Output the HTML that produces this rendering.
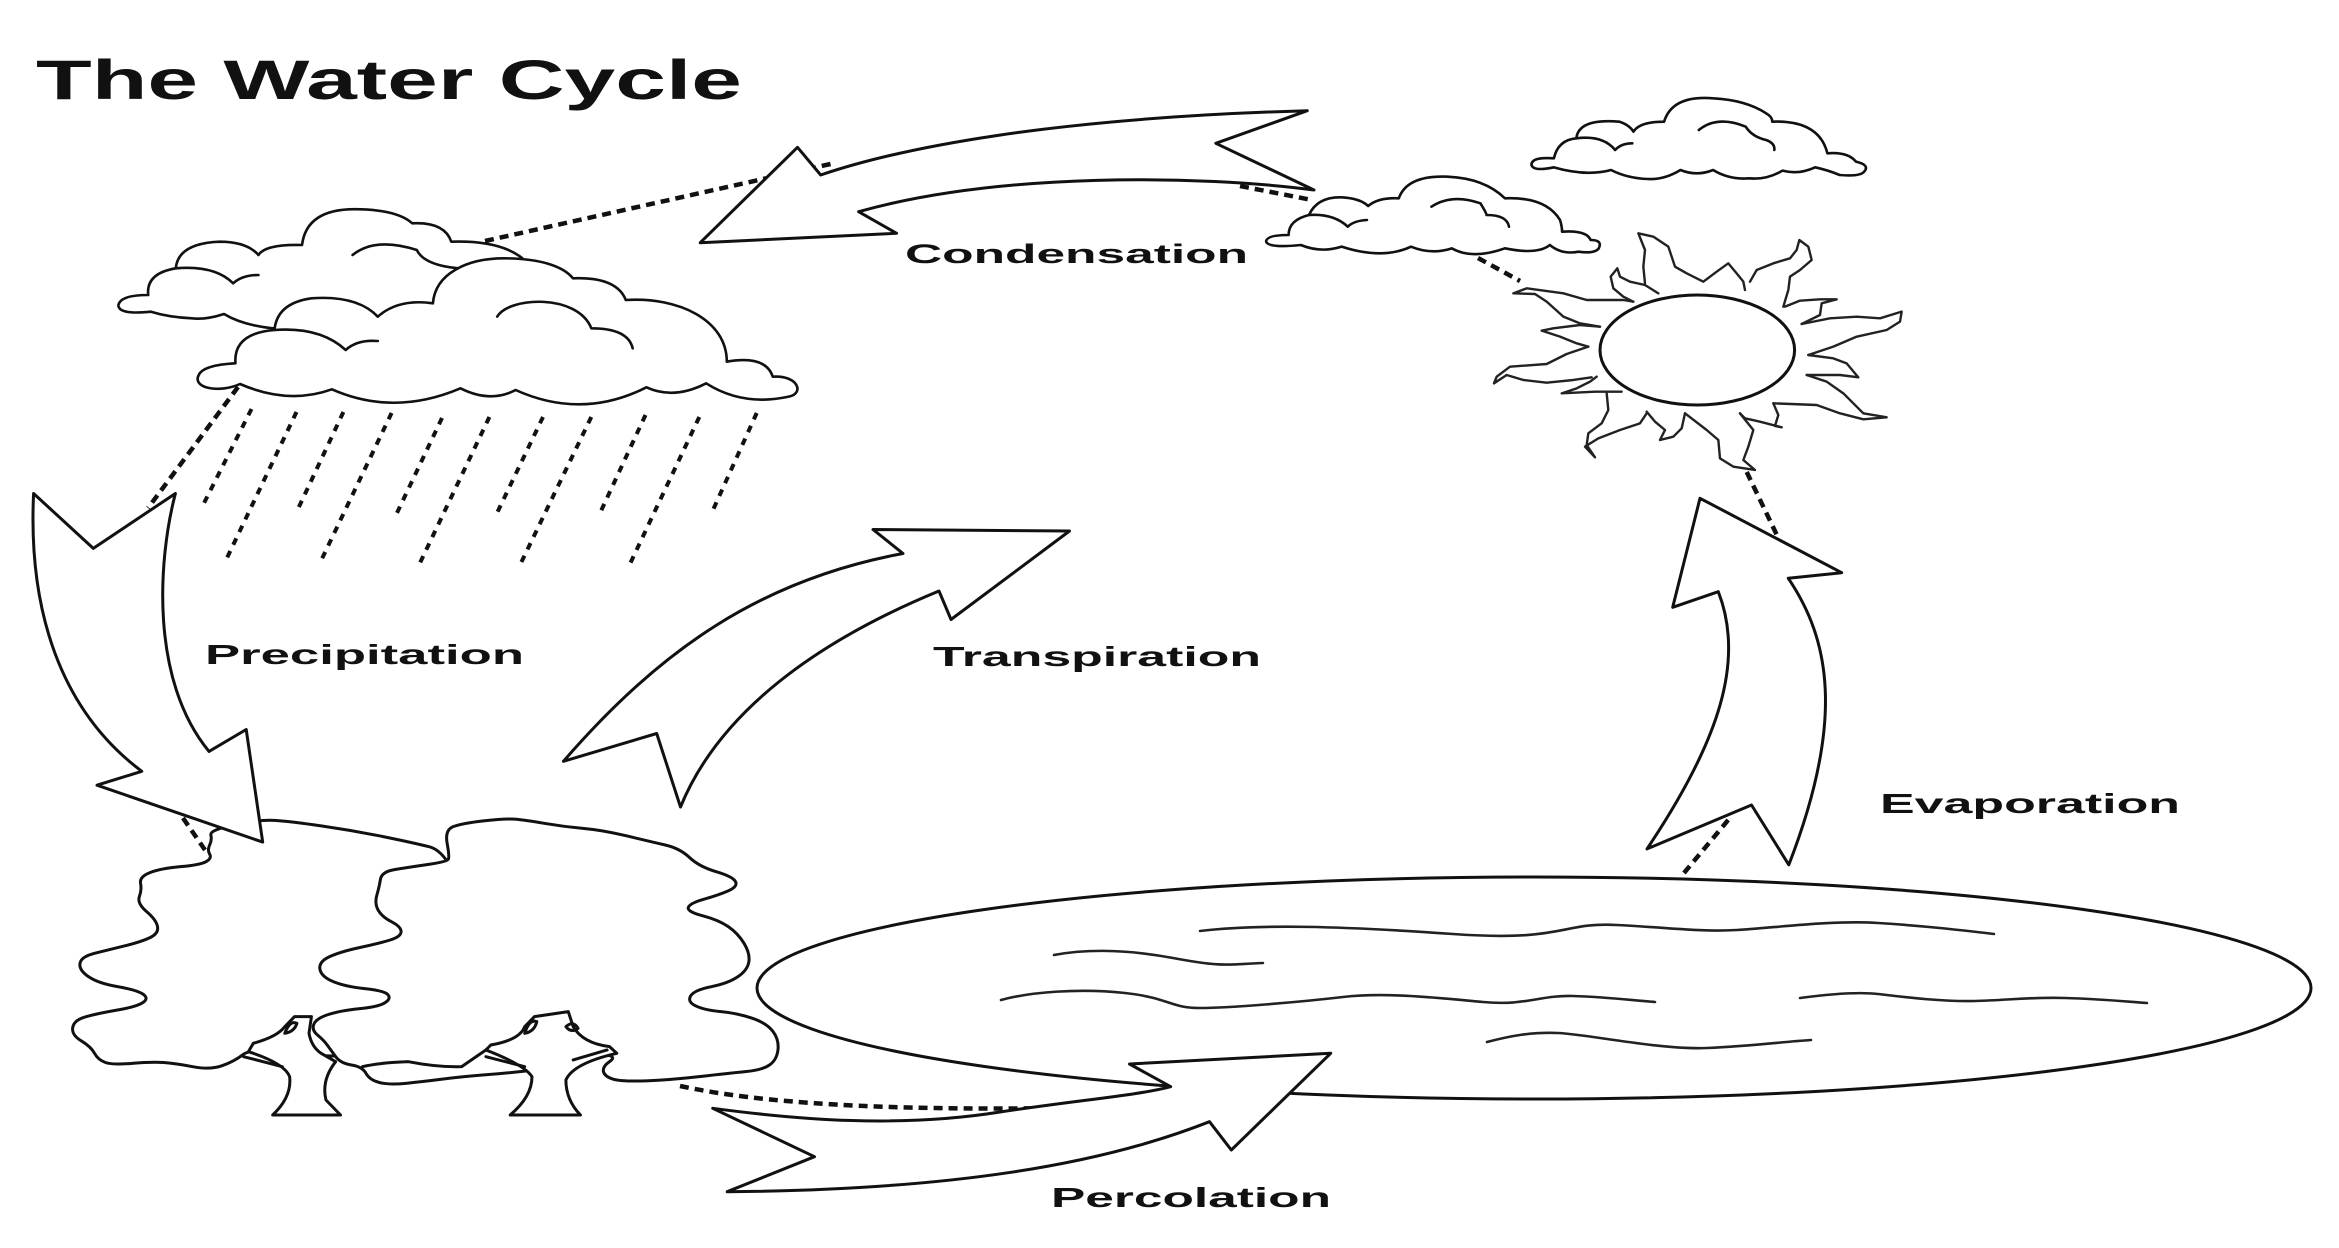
<!DOCTYPE html>
<html>
<head>
<meta charset="utf-8">
<style>
html,body{margin:0;padding:0;background:#fff;}
svg{display:block;}
path,ellipse,line{vector-effect:non-scaling-stroke;}
.o{fill:#fff;stroke:#111;stroke-width:3;stroke-linejoin:round;stroke-linecap:round;}
.l{fill:none;stroke:#111;stroke-width:3;stroke-linejoin:round;stroke-linecap:round;}
.c{fill:#fff;stroke:#111;stroke-width:2.6;stroke-linejoin:round;stroke-linecap:round;}
.cl{fill:none;stroke:#111;stroke-width:2.6;stroke-linejoin:round;stroke-linecap:round;}
.r{fill:none;stroke:#222;stroke-width:2.4;stroke-linejoin:round;stroke-linecap:round;}
.d{fill:none;stroke:#111;stroke-width:4.5;stroke-dasharray:9 6;}
.rain{fill:none;stroke:#111;stroke-width:4;stroke-dasharray:7 7;}
.w{fill:none;stroke:#222;stroke-width:2.6;stroke-linecap:round;}
text{font-family:"Liberation Sans",Arial,sans-serif;font-weight:bold;fill:#111;}
</style>
</head>
<body>
<svg width="2339" height="1248" viewBox="0 0 2339 1248" xmlns="http://www.w3.org/2000/svg">
<rect width="2339" height="1248" fill="#fff"/>

<!-- Rain -->
<line class="rain" x1="251.5" y1="409" x2="203" y2="505"/>
<line class="rain" x1="296.5" y1="412" x2="226" y2="560"/>
<line class="rain" x1="343.4" y1="412" x2="297.5" y2="510"/>
<line class="rain" x1="391.6" y1="413" x2="320.4" y2="562"/>
<line class="rain" x1="442" y1="418" x2="396" y2="515"/>
<line class="rain" x1="489.4" y1="417" x2="419" y2="565"/>
<line class="rain" x1="543" y1="417" x2="497" y2="513"/>
<line class="rain" x1="591.3" y1="417" x2="520" y2="565"/>
<line class="rain" x1="645.5" y1="415" x2="600.5" y2="512"/>
<line class="rain" x1="699.3" y1="417" x2="630.4" y2="563"/>
<line class="rain" x1="756.7" y1="413" x2="713" y2="510"/>
<line class="d" x1="238" y1="387" x2="148" y2="508"/>

<!-- Left clouds -->
<g transform="translate(100,180) scale(0.4592,0.33333)">
<path class="c" d="M 375,445 Q 310,435 270,402 Q 230,420 200,415 Q 150,412 110,395 Q 40,405 40,375 Q 45,345 105,345 Q 100,280 165,265 Q 170,190 260,185 Q 320,185 345,225 Q 360,192 440,195 Q 450,80 570,88 Q 650,92 680,130 Q 750,125 765,185 Q 870,180 920,235 L 800,400 Z"/>
<path class="cl" d="M 165,265 Q 250,255 290,310 Q 310,285 345,285"/>
<path class="cl" d="M 550,225 Q 600,170 690,210 Q 705,255 780,265"/>
<path class="c" d="M 295,550 Q 290,460 380,450 Q 385,370 460,355 Q 560,345 605,410 Q 650,355 725,370 C 730,280 800,235 880,235 C 960,235 1010,260 1030,295 Q 1125,290 1145,360 C 1260,350 1365,420 1365,545 Q 1450,525 1465,590 C 1520,585 1535,640 1500,650 Q 1400,680 1320,610 Q 1250,660 1190,622 Q 1050,720 905,630 Q 850,670 785,625 Q 640,710 505,628 Q 410,675 305,612 C 260,640 200,625 215,585 Q 225,555 295,550 Z"/>
<path class="cl" d="M 380,450 Q 480,440 535,510 Q 560,478 605,483"/>
<path class="cl" d="M 865,410 C 890,350 1040,340 1070,445 Q 1150,445 1160,505"/>
</g>

<!-- Condensation connectors -->
<line class="d" x1="485" y1="241" x2="835" y2="163"/>
<line class="d" x1="1240" y1="186" x2="1312" y2="200"/>

<!-- Condensation arrow -->
<path class="o" d="M 820.7,175 C 900,148 1050,118 1307.3,110.7 L 1215.8,143.3 L 1314,190 C 1200,175 1000,172 858.6,211.7 L 896.6,233.3 L 700.2,242.7 L 797.5,147.3 Z"/>

<!-- Right clouds -->
<g transform="translate(1260,80) scale(0.4082,0.33333)">
<path class="c" d="M 120,405 Q 140,350 200,352 Q 245,355 265,378 Q 290,352 340,355 Q 360,285 460,290 Q 550,295 600,355 Q 700,350 735,420 Q 740,440 740,455 Q 800,450 810,480 Q 840,480 830,505 Q 820,522 780,515 Q 740,525 710,495 Q 680,525 600,505 Q 520,540 470,505 Q 420,525 370,500 Q 300,540 200,500 Q 150,520 100,495 Q 20,505 15,485 Q 15,465 70,465 Q 70,420 120,405 Z"/>
<path class="cl" d="M 120,405 Q 180,400 215,440 Q 230,422 262,420"/>
<path class="cl" d="M 420,380 Q 470,340 540,370 Q 555,400 555,405 Q 605,405 610,440"/>
<path class="c" d="M 720,235 Q 730,180 775,175 Q 780,115 880,125 Q 905,135 915,155 Q 930,125 990,125 Q 1010,45 1110,55 Q 1190,60 1240,100 Q 1255,110 1255,125 Q 1370,120 1390,220 Q 1440,215 1460,245 Q 1495,255 1480,275 Q 1470,290 1420,285 Q 1390,270 1360,262 Q 1320,285 1280,272 Q 1240,300 1200,295 Q 1150,300 1110,270 Q 1070,290 1030,270 Q 990,300 950,297 Q 900,295 860,270 Q 800,290 720,262 Q 670,275 665,255 Q 665,230 720,235 Z"/>
<path class="cl" d="M 775,175 Q 840,165 870,210 Q 885,190 912,190"/>
<path class="cl" d="M 1075,150 Q 1120,105 1190,140 Q 1205,170 1240,180 Q 1262,190 1260,210"/>
</g>

<!-- Sun-cloud connector -->
<line class="d" x1="1478" y1="258" x2="1520" y2="281"/>

<!-- Sun -->
<g transform="translate(1480,200) scale(0.33333)">
<path class="r" d="M 460,305 L 430,290 L 400,265 L 392,230 L 412,205 L 420,230 L 450,245 L 495,255 L 535,280"/>
<path class="r" d="M 495,250 L 490,200 L 495,150 L 475,100 L 520,110 L 565,140 L 585,200 L 620,220 L 670,245 L 710,215 L 745,190 L 770,220 L 790,245 L 795,270"/>
<path class="r" d="M 810,245 L 830,210 L 880,190 L 930,175 L 950,150 L 958,120 L 985,140 L 995,180 L 960,210 L 930,230 L 925,270 L 910,320"/>
<path class="r" d="M 915,320 L 960,302 L 1020,298 L 1070,298 L 1025,310 L 1020,345 L 965,372"/>
<path class="r" d="M 965,372 L 1050,355 L 1130,350 L 1200,355 L 1265,335 L 1260,365 L 1220,390 L 1130,410 L 1060,440 L 985,465"/>
<path class="r" d="M 985,465 L 1060,475 L 1100,490 L 1135,532 L 1080,525 L 980,525"/>
<path class="r" d="M 980,525 L 1040,545 L 1090,580 L 1150,640 L 1220,652 L 1150,658 L 1080,640 L 1010,615 L 880,610"/>
<path class="r" d="M 880,610 L 895,645 L 885,678 L 905,682 L 840,665 L 795,655 L 780,640"/>
<path class="r" d="M 780,640 L 820,690 L 805,740 L 790,780 L 825,810 L 760,800 L 720,775 L 715,720 L 680,690 L 615,640"/>
<path class="r" d="M 615,640 L 605,685 L 580,710 L 540,720 L 555,690 L 525,665 L 500,635"/>
<path class="r" d="M 500,640 L 480,670 L 420,690 L 355,715 L 315,740 L 345,772 L 320,735 L 325,700 L 365,670 L 385,630 L 380,580"/>
<path class="r" d="M 425,575 L 345,575 L 245,580 L 290,565 L 330,545 L 350,530"/>
<path class="r" d="M 335,532 L 280,540 L 200,548 L 130,540 L 80,525 L 42,550 L 50,530 L 90,500 L 200,492 L 260,462 L 325,440"/>
<path class="r" d="M 325,440 L 290,430 L 240,410 L 185,392 L 220,385 L 300,375 L 360,380"/>
<path class="r" d="M 360,380 L 300,370 L 250,350 L 200,305 L 165,282 L 100,280 L 140,265 L 250,280 L 320,300 L 430,300 L 460,305"/>
</g>
<ellipse class="o" cx="1697.3" cy="350" rx="97.3" ry="55"/>

<!-- Evaporation connectors -->
<line class="d" x1="1746.7" y1="472" x2="1778.3" y2="538"/>
<line class="d" x1="1684" y1="873" x2="1729" y2="819"/>

<!-- Evaporation arrow -->
<path class="o" d="M 1718.3,591.7 L 1672.7,607.3 L 1700,498.3 L 1841.7,572.7 L 1788.3,578.3 C 1830,640 1845,720 1788.8,864.8 L 1751.5,805 L 1647,848.9 C 1720,740 1745,660 1718.3,591.7 Z"/>

<!-- Lake -->
<ellipse class="o" cx="1534" cy="988" rx="777" ry="111"/>
<path class="w" d="M 1200,931 C 1260,924 1340,926 1453,934 S 1560,922 1617,925 S 1700,932 1737,930 S 1830,920 1878,923 S 1960,930 1994,934"/>
<path class="w" d="M 1054,955 C 1080,950 1120,948 1173,958 S 1230,964 1263,963"/>
<path class="w" d="M 1001,1000 C 1030,992 1080,988 1125,993 S 1170,1008 1200,1008 S 1300,1002 1343,997 S 1440,998 1483,1002 S 1540,995 1573,996 S 1630,1000 1655,1002"/>
<path class="w" d="M 1800,998 C 1830,994 1860,992 1878,994 S 1940,1002 1975,1001 S 2030,997 2065,998 S 2120,1001 2147,1003"/>
<path class="w" d="M 1487,1042 C 1510,1036 1530,1032 1558,1033 S 1660,1050 1707,1048 S 1780,1042 1811,1040"/>

<!-- Trees -->
<g transform="translate(40,780) scale(0.4847,0.33333)">
<path class="o" d="M 352.5,165 Q 350,150 402.5,134 Q 455,118 487.5,121.5 Q 520,125 580,137.5 Q 640,150 700,167.5 Q 760,185 802.5,200 Q 845,215 872.5,357.5 Q 900,500 800,675 Q 700,850 570,825 Q 440,800 420,822.5 Q 400,845 375,857.5 Q 350,870 315,860 Q 280,850 255,847.5 Q 230,845 190,850 Q 150,855 135,847.5 Q 120,840 112.5,820 Q 105,800 85,782.5 Q 65,765 67.5,742.5 Q 70,720 95,710 Q 120,700 160,690 Q 200,680 212.5,667.5 Q 225,655 212.5,642.5 Q 200,630 160,620 Q 120,610 100,590 Q 80,570 82.5,550 Q 85,530 112.5,520 Q 140,510 175,497.5 Q 210,485 227.5,472.5 Q 245,460 242.5,440 Q 240,420 220,395 Q 200,370 205,350 Q 210,330 207.5,310 Q 205,290 227.5,277.5 Q 250,265 290,260 Q 330,255 342.5,245 Q 355,235 350,222.5 Q 345,210 350,195 Q 355,180 352.5,165 Z"/>
<path class="o" d="M 842.5,237.5 Q 845,230 840,190 Q 835,150 852.5,140 Q 870,130 915,122.5 Q 960,115 980,117.5 Q 1000,120 1040,130 Q 1080,140 1120,145 Q 1160,150 1210,167.5 Q 1260,185 1290,195 Q 1320,205 1340,232.5 Q 1360,260 1395,275 Q 1430,290 1435,305 Q 1440,320 1420,332.5 Q 1400,345 1370,357.5 Q 1340,370 1337.5,382.5 Q 1335,395 1367.5,407.5 Q 1400,420 1420,440 Q 1440,460 1452.5,490 Q 1465,520 1462.5,545 Q 1460,570 1440,590 Q 1420,610 1385,620 Q 1350,630 1342.5,647.5 Q 1335,665 1352.5,677.5 Q 1370,690 1405,695 Q 1440,700 1470,715 Q 1500,730 1512.5,755 Q 1525,780 1522.5,810 Q 1520,840 1505,855 Q 1490,870 1455,875 Q 1420,880 1360,890 Q 1300,900 1250,902.5 Q 1200,905 1182.5,897.5 Q 1165,890 1162.5,875 Q 1160,860 1175,845 Q 1190,830 1170,825 Q 1150,820 1115,840 Q 1080,860 1027.5,869 Q 975,878 922.5,884 Q 870,890 830,897.5 Q 790,905 755,910 Q 720,915 700,907.5 Q 680,900 672.5,880 Q 665,860 642.5,855 Q 620,850 610,830 Q 600,810 592.5,795 Q 585,780 572.5,765 Q 560,750 565,732.5 Q 570,715 595,703.5 Q 620,692 660,686 Q 700,680 712.5,667.5 Q 725,655 717.5,643.5 Q 710,632 670,626 Q 630,620 605,605 Q 580,590 577.5,567.5 Q 575,545 597.5,530 Q 620,515 660,502.5 Q 700,490 722.5,480 Q 745,470 745,455 Q 745,440 725,425 Q 705,410 697.5,390 Q 690,370 695,345 Q 700,320 702.5,297.5 Q 705,275 732.5,268.5 Q 760,262 800,253.5 Q 840,245 842.5,237.5 Z"/>
<path class="l" d="M 665,860 Q 700,848 760,845 Q 820,862 870,860 Q 895,835 930,800"/>
<path class="o" d="M 480,1005 Q 520,950 515,890 Q 505,850 430,815 L 440,790 Q 490,770 505,740 L 525,710 L 560,710 L 555,760 Q 560,800 580,820 L 610,845 Q 580,900 590,960 L 620,1005 Z"/>
<path class="l" d="M 420,830 L 500,860"/>
<path class="l" d="M 505,760 Q 515,720 530,730 Q 525,755 505,760 Z"/>
<path class="o" d="M 970,1005 Q 1015,950 1015,890 Q 1000,855 920,810 L 930,795 Q 990,780 1000,740 L 1020,710 L 1090,695 L 1100,740 Q 1120,790 1175,800 L 1190,820 Q 1100,850 1085,900 Q 1085,960 1115,1005 Z"/>
<path class="l" d="M 920,830 L 1000,860"/>
<path class="l" d="M 1100,840 L 1170,810"/>
<path class="l" d="M 1000,760 Q 1010,715 1025,725 Q 1020,755 1000,760 Z"/>
<path class="l" d="M 1085,740 Q 1100,720 1110,745 Q 1095,760 1085,740 Z"/>
</g>

<!-- Precipitation arrow -->
<line class="d" x1="183" y1="818" x2="205" y2="850"/>
<path class="o" d="M 33.6,493.5 L 93.3,548.4 L 175.4,493.5 C 158,560 150,680 209,751.4 L 246.2,729.5 L 262.7,842.1 L 97,785.2 L 141.8,771.3 C 60,710 28,610 33.6,493.5 Z"/>

<!-- Transpiration arrow -->
<path class="o" d="M 563.4,761.3 C 660,650 760,580 903,553.5 L 873,529.5 L 1069.5,531 L 951,619.5 L 939,591 C 820,640 720,710 680.5,807 L 656.7,733.5 Z"/>

<!-- Percolation -->
<path class="d" d="M 680,1086 Q 800,1112 1060,1108"/>
<path class="o" d="M 712.7,1108.3 C 800,1120 900,1128 1000,1112 C 1080,1100 1140,1095 1170.7,1086.7 L 1129.5,1064 L 1330.7,1053.3 L 1231.3,1150 L 1209.5,1121.7 C 1100,1165 950,1190 727.2,1191.7 L 814.5,1156.7 Z"/>

<!-- Labels -->
<text x="36" y="99" font-size="56" textLength="706" lengthAdjust="spacingAndGlyphs">The Water Cycle</text>
<text x="905" y="263" font-size="27" textLength="343" lengthAdjust="spacingAndGlyphs">Condensation</text>
<text x="205" y="664" font-size="28" textLength="319" lengthAdjust="spacingAndGlyphs">Precipitation</text>
<text x="933" y="666" font-size="28" textLength="328" lengthAdjust="spacingAndGlyphs">Transpiration</text>
<text x="1880" y="813" font-size="28" textLength="300" lengthAdjust="spacingAndGlyphs">Evaporation</text>
<text x="1051" y="1207" font-size="28" textLength="280" lengthAdjust="spacingAndGlyphs">Percolation</text>
</svg>
</body>
</html>
